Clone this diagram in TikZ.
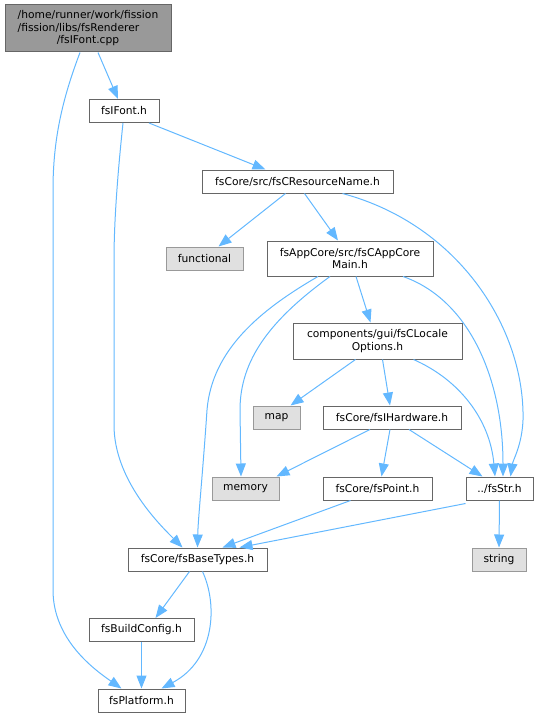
\documentclass[tikz,border=0pt]{standalone}
\usepackage{fontspec}
\setmainfont{DejaVu Sans}
\usetikzlibrary{arrows.meta}
\definecolor{edgeblue}{HTML}{63B8FF}
\definecolor{boxborder}{HTML}{666666}
\definecolor{rootfill}{HTML}{999999}
\definecolor{sysfill}{HTML}{E0E0E0}
\definecolor{sysborder}{HTML}{999999}
\begin{document}
\begin{tikzpicture}[x=1pt,y=-1pt,
  every node/.style={font=\fontsize{10.7}{12.6}\selectfont, inner sep=0pt, align=center},
  filebox/.style={draw=boxborder, fill=white, line width=1pt, minimum height=23pt},
  rootbox/.style={draw=boxborder, fill=rootfill, line width=1pt},
  sysbox/.style={draw=sysborder, fill=sysfill, line width=1pt, minimum height=23pt},
  dep/.style={draw=edgeblue, line width=1pt, -{Triangle[length=13pt,width=10pt]}}]
\useasboundingbox (0,0) rectangle (538,717);

\node[rootbox, minimum width=166pt, minimum height=47pt] (root) at (88,28.5)
  {\begin{tabular}{@{}l@{}}/home/runner/work/fission\\/fission/libs/fsRenderer\\\multicolumn{1}{@{}c@{}}{/fsIFont.cpp}\end{tabular}};
\node[filebox, minimum width=70pt] (font) at (124,111) {fsIFont.h};
\node[filebox, minimum width=191pt] (res) at (297.5,181.5) {fsCore/src/fsCResourceName.h};
\node[sysbox, minimum width=77pt] (func) at (204.5,258.5) {functional};
\node[filebox, minimum width=166pt, minimum height=35pt] (app) at (350,258.5) {fsAppCore/src/fsCAppCore\\Main.h};
\node[filebox, minimum width=169pt, minimum height=36pt] (loc) at (377.5,341) {components/gui/fsCLocale\\Options.h};
\node[sysbox, minimum width=47pt] (map) at (276.5,417.5) {map};
\node[filebox, minimum width=138pt] (hw) at (392,417.5) {fsCore/fsIHardware.h};
\node[sysbox, minimum width=67pt] (mem) at (245.5,488.5) {memory};
\node[filebox, minimum width=109pt] (pt) at (377.5,488.5) {fsCore/fsPoint.h};
\node[filebox, minimum width=67pt] (str) at (499.5,488.5) {../fsStr.h};
\node[filebox, minimum width=139pt] (base) at (197.5,559.5) {fsCore/fsBaseTypes.h};
\node[sysbox, minimum width=54pt] (string) at (499,559.5) {string};
\node[filebox, minimum width=105pt] (build) at (141.5,630) {fsBuildConfig.h};
\node[filebox, minimum width=87pt] (plat) at (141.5,700.5) {fsPlatform.h};

% edges
\draw[dep] ([xshift=10]root.south) -- ([xshift=-6]font.north);
\draw[dep] ([xshift=-8]root.south) .. controls (62,100) and (53,140) .. (53,190) -- (53,590) .. controls (53,640) and (95,670) .. ([xshift=-20]plat.north);
\draw[dep] ([xshift=-1]font.south) .. controls (118,170) and (114,220) .. (114,260) -- (114,425) .. controls (114,480) and (160,525) .. ([xshift=-15]base.north);
\draw[dep] ([xshift=25]font.south) -- ([xshift=-32]res.north);
\draw[dep] ([xshift=-12]res.south) -- ([xshift=14]func.north);
\draw[dep] ([xshift=7]res.south) -- ([xshift=-12]app.north);
\draw[dep] ([xshift=45]res.south) .. controls (460,225) and (525,330) .. (523,420) .. controls (522,445) and (513,460) .. ([xshift=11]str.north);
\draw[dep] ([xshift=-32]app.south) .. controls (260,310) and (212,350) .. (207,410) .. controls (203,470) and (198,520) .. (base.north);
\draw[dep] ([xshift=-20]app.south) .. controls (270,320) and (240,360) .. (240,410) -- ([xshift=-4.5]mem.north);
\draw[dep] ([xshift=6]app.south) -- ([xshift=-7]loc.north);
\draw[dep] ([xshift=53]app.south) .. controls (470,300) and (503,380) .. ([xshift=3.5]str.north);
\draw[dep] ([xshift=-22]loc.south) -- ([xshift=14]map.north);
\draw[dep] ([xshift=5]loc.south) -- ([xshift=-2]hw.north);
\draw[dep] ([xshift=36]loc.south) .. controls (460,380) and (490,420) .. ([xshift=-4.5]str.north);
\draw[dep] ([xshift=-22]hw.south) -- ([xshift=-3]mem.north east);
\draw[dep] ([xshift=-2]hw.south) -- ([xshift=4]pt.north);
\draw[dep] ([xshift=17]hw.south) -- ([xshift=-17]str.north);
\draw[dep] ([xshift=-27]pt.south) -- ([xshift=25]base.north);
\draw[dep] ([yshift=-3]str.south west) -- ([xshift=42]base.north);
\draw[dep] (str.south) -- (string.north);
\draw[dep] ([xshift=-8]base.south) -- ([xshift=14]build.north);
\draw[dep] ([xshift=5]base.south) .. controls (218,605) and (215,660) .. ([xshift=20]plat.north);
\draw[dep] (build.south) -- (plat.north);
\end{tikzpicture}
\end{document}
